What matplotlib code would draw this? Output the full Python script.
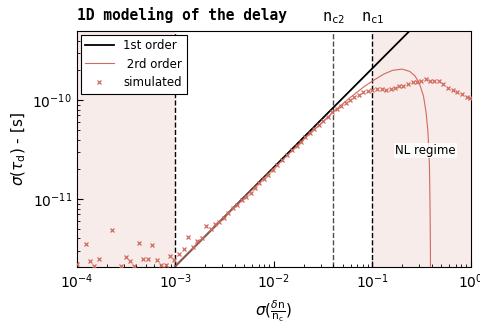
import matplotlib
matplotlib.use('Agg')
import matplotlib.pyplot as plt

plt.rcParams.update({
    'font.family': 'DejaVu Sans',
    'mathtext.fontset': 'dejavusans',
    'font.size': 10,
    'xtick.direction': 'in',
    'ytick.direction': 'in',
})

RED = '#d06a5c'
SHADE = '#f8eceb'

# lignes de modèle
first_x = [1e-3, 1e-2, 1e-1, 0.3]
first_y = [2.1e-12, 2.1e-11, 2.1e-10, 6.3e-10]

second_x = [1e-3, 3e-3, 1e-2, 2e-2, 4e-2, 6e-2, 8e-2, 0.1, 0.13, 0.16, 0.2,
            0.24, 0.27, 0.3, 0.33, 0.35, 0.365, 0.375, 0.38, 0.385, 0.388, 0.39]
second_y = [2.1e-12, 6.3e-12, 2.05e-11, 4.0e-11, 7.6e-11, 1.07e-10, 1.34e-10,
            1.56e-10, 1.83e-10, 2.0e-10, 2.06e-10, 1.95e-10, 1.76e-10, 1.48e-10,
            1.1e-10, 7.6e-11, 5.0e-11, 3.0e-11, 2.0e-11, 8e-12, 3e-12, 1e-12]

# points simulés
sim_x = [1.0e-4, 1.225e-4, 1.355e-4, 1.50e-4, 1.67e-4, 2.28e-4, 2.80e-4, 3.12e-4,
         3.45e-4, 3.82e-4, 4.26e-4, 4.71e-4, 5.22e-4, 5.81e-4, 6.44e-4, 7.13e-4,
         7.95e-4, 8.79e-4, 9.72e-4,
         1.093e-3, 1.221e-3, 1.349e-3, 1.495e-3, 1.665e-3, 1.845e-3, 2.04e-3,
         2.28e-3, 2.52e-3, 2.78e-3, 3.10e-3, 3.43e-3, 3.81e-3, 4.24e-3, 4.70e-3,
         5.20e-3, 5.80e-3, 6.41e-3, 7.10e-3, 7.91e-3, 8.75e-3, 9.70e-3, 1.08e-2,
         1.21e-2, 1.36e-2, 1.51e-2, 1.70e-2, 1.88e-2, 2.06e-2, 2.32e-2, 2.56e-2,
         2.86e-2, 3.17e-2, 3.51e-2, 3.91e-2, 4.33e-2, 4.79e-2, 5.35e-2, 5.91e-2,
         6.53e-2, 7.29e-2, 8.07e-2, 8.94e-2, 9.95e-2,
         0.1119, 0.1239, 0.1371, 0.1531, 0.169, 0.187, 0.2055, 0.231, 0.256,
         0.281, 0.311, 0.349, 0.383, 0.424, 0.473, 0.523, 0.588, 0.651, 0.726,
         0.805, 0.904, 0.977]
sim_y = [2.2e-12, 3.49e-12, 2.37e-12, 2.12e-12, 2.48e-12, 4.86e-12, 2.12e-12, 2.58e-12,
         2.37e-12, 2.12e-12, 3.57e-12, 2.48e-12, 2.48e-12, 3.43e-12, 2.42e-12, 2.15e-12,
         2.15e-12, 2.67e-12, 2.42e-12,
         2.78e-12, 3.10e-12, 4.16e-12, 3.30e-12, 3.79e-12, 4.01e-12, 5.37e-12,
         4.94e-12, 5.59e-12, 5.90e-12, 6.38e-12, 7.28e-12, 8.05e-12, 8.70e-12, 9.77e-12,
         1.055e-11, 1.16e-11, 1.28e-11, 1.44e-11, 1.58e-11, 1.75e-11, 1.96e-11, 2.20e-11,
         2.50e-11, 2.80e-11, 3.13e-11, 3.43e-11, 3.79e-11, 4.20e-11, 4.61e-11, 5.09e-11,
         5.59e-11, 6.14e-11, 6.78e-11, 7.51e-11, 8.05e-11, 8.70e-11, 9.39e-11, 1.0e-10,
         1.065e-10, 1.14e-10, 1.21e-10, 1.24e-10, 1.26e-10,
         1.31e-10, 1.31e-10, 1.28e-10, 1.31e-10, 1.34e-10, 1.38e-10, 1.39e-10, 1.47e-10,
         1.51e-10, 1.53e-10, 1.57e-10, 1.63e-10, 1.57e-10, 1.56e-10, 1.57e-10, 1.45e-10,
         1.34e-10, 1.28e-10, 1.20e-10, 1.15e-10, 1.065e-10, 1.04e-10]

n_c1 = 0.1
n_c2 = 0.04
n_low = 1e-3

fig = plt.figure(figsize=(4.81, 3.23), dpi=100)
ax = fig.add_axes([0.160, 0.173, 0.819, 0.731])

ax.axvspan(1e-4, n_low, color=SHADE, zorder=0, lw=0)
ax.axvspan(n_c1, 1, color=SHADE, zorder=0, lw=0)
for xv, c in [(n_low, 'k'), (n_c2, '0.3'), (n_c1, 'k')]:
    ax.axvline(xv, color=c, ls='--', lw=1, zorder=1)

ax.plot(first_x, first_y, color='k', lw=1.3, label='1st order', zorder=3)
ax.plot(second_x, second_y, color=RED, lw=0.8, label=' 2rd order', zorder=3)
ax.plot(sim_x, sim_y, ls='none', marker='x', ms=3, mew=0.9, color=RED,
        label='simulated', zorder=4)

ax.text(0.345, 3.1e-11, 'NL regime', ha='center', va='center', fontsize=8.5, zorder=5,
        bbox=dict(facecolor='white', edgecolor='none', alpha=0.85, pad=1))

ax.set_xscale('log')
ax.set_yscale('log')
ax.set_xlim(1e-4, 1)
ax.set_ylim(2.05e-12, 5e-10)
ax.tick_params(which='both', top=False, right=False)
ax.tick_params(which='major', length=4)
ax.tick_params(which='minor', length=2)

ax.set_xlabel(r'$\sigma(\frac{\delta\mathrm{n}}{\mathrm{n_c}})$', fontsize=11, labelpad=6)
ax.set_ylabel(r'$\sigma(\tau_\mathrm{d})$ - [s]', fontsize=11, labelpad=3)
ax.set_title('1D modeling of the delay', loc='left', fontsize=10.5, fontweight='bold',
             family='DejaVu Sans Mono', pad=8)

ax.text(n_c2, 1.02, r'$\mathtt{n_{c2}}$', transform=ax.get_xaxis_transform(),
        ha='center', va='bottom', fontsize=11)
ax.text(n_c1, 1.02, r'$\mathtt{n_{c1}}$', transform=ax.get_xaxis_transform(),
        ha='center', va='bottom', fontsize=11)

leg = ax.legend(loc='upper left', fontsize=8.5, numpoints=1, fancybox=False,
                edgecolor='k', framealpha=1, borderaxespad=0.3, handlelength=2.4,
                labelspacing=0.45)
leg.get_frame().set_linewidth(0.8)

plt.savefig('out.png', dpi=100)
